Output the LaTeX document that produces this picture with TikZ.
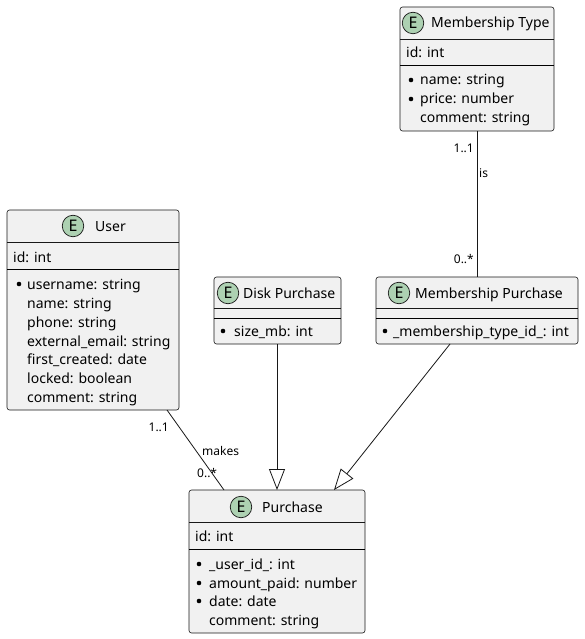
\documentclass[tikz,border=0pt]{standalone}
\usepackage{fontspec}
\setmainfont{Noto Sans}
\usetikzlibrary{arrows.meta}
\definecolor{boxfill}{HTML}{F1F1F1}
\definecolor{boxline}{HTML}{181818}
\definecolor{spotc}{HTML}{ADD1B2}
\begin{document}
\begin{tikzpicture}[x=1pt,y=-1pt,
  ent/.style={draw=boxline, fill=boxfill, rounded corners=2.5pt, line width=0.6pt, inner sep=0pt},
  spot/.style={circle, draw=boxline, fill=spotc, minimum size=21.5pt, inner sep=0pt, line width=0.7pt, font=\bfseries\fontsize{16}{16}\selectfont},
  title/.style={anchor=base west, inner sep=0pt, font=\fontsize{14}{16}\selectfont},
  row/.style={anchor=base west, inner sep=0pt, font=\fontsize{14}{16}\selectfont},
  lbl/.style={inner sep=0pt, font=\fontsize{12}{14}\selectfont},
  hsep/.style={draw=boxline, line width=0.5pt},
  asep/.style={draw=black, line width=1pt},
  conn/.style={draw=boxline, line width=0.8pt},
  ext/.style={conn, -{Triangle[open, length=21pt, width=16pt, line width=0.8pt]}},
  dot/.style={circle, fill=black, inner sep=0pt, minimum size=4.6pt}
]
\useasboundingbox (0,0) rectangle (585,639);
\fill[white] (0,0) rectangle (585,639);

% ---------- Membership Type ----------
\node[ent, minimum width=154pt, minimum height=124pt] (mt) at (477,69) {};
\draw[hsep] (400,39) -- (554,39);
\draw[asep] (400,66) -- (554,66);
\node[spot] (mts) at (413,23) {E};
\node[title] (mtt) at (431,28) {Membership Type};
\node[row] (mt1) at (406,58) {id: int};
\node[dot] (mtd1) at (411,80) {};
\node[row] (mt2) at (420,85) {name: string};
\node[dot] (mtd2) at (411,99) {};
\node[row] (mt3) at (420,104) {price: number};
\node[row] (mt4) at (420,123) {comment: string};

% ---------- User ----------
\node[ent, minimum width=172pt, minimum height=200pt] (user) at (93,310) {};
\draw[hsep] (7,242) -- (179,242);
\draw[asep] (7,269) -- (179,269);
\node[spot] (us) at (73,226) {E};
\node[title] (ut) at (95,231) {User};
\node[row] (u1) at (13,262) {id: int};
\node[dot] (ud1) at (19,284) {};
\node[row] (u2) at (27,289) {username: string};
\node[row] (u3) at (27,308) {name: string};
\node[row] (u4) at (27,327) {phone: string};
\node[row] (u5) at (27,346) {external\_email: string};
\node[row] (u6) at (27,364) {first\_created: date};
\node[row] (u7) at (27,383) {locked: boolean};
\node[row] (u8) at (27,402) {comment: string};

% ---------- Disk Purchase ----------
\node[ent, minimum width=127pt, minimum height=67pt] (disk) at (277.5,310.5) {};
\draw[hsep] (214,308) -- (341,308);
\draw[asep] (214,318) -- (341,318);
\node[spot] (ds) at (228,293) {E};
\node[title] (dt) at (243,298) {Disk Purchase};
\node[dot] (dd1) at (223,331) {};
\node[row] (d1) at (234,336) {size\_mb: int};

% ---------- Membership Purchase ----------
\node[ent, minimum width=202pt, minimum height=67pt] (mp) at (477,310.5) {};
\draw[hsep] (376,308) -- (578,308);
\draw[asep] (376,318) -- (578,318);
\node[spot] (mps) at (399,293) {E};
\node[title] (mpt) at (415,298) {Membership Purchase};
\node[dot] (mpd1) at (385,331) {};
\node[row] (mp1) at (393,336) {\_membership\_type\_id\_: int};

% ---------- Purchase ----------
\node[ent, minimum width=176pt, minimum height=143pt] (pur) at (277,561.5) {};
\draw[hsep] (189,522) -- (365,522);
\draw[asep] (189,549) -- (365,549);
\node[spot] (ps) at (241,507) {E};
\node[title] (pt) at (262,512) {Purchase};
\node[row] (p1) at (195,541) {id: int};
\node[dot] (pd1) at (199,564) {};
\node[row] (p2) at (209,569) {\_user\_id\_: int};
\node[dot] (pd2) at (199,583) {};
\node[row] (p3) at (209,588) {amount\_paid: number};
\node[dot] (pd3) at (199,601) {};
\node[row] (p4) at (209,606) {date: date};
\node[row] (p5) at (209,625) {comment: string};

% ---------- connectors ----------
\draw[conn] (mt.south) -- (mp.north);
\node[lbl, anchor=east] (l1) at (474,148) {1..1};
\node[lbl, anchor=west] (l2) at (479,173) {is};
\node[lbl, anchor=east] (l3) at (474,259) {0..*};

\coordinate (ua) at (167,410);
\coordinate (pa) at (224,490);
\draw[conn] (ua) -- (pa);
\node[lbl, anchor=east] (l4) at (169,427) {1..1};
\node[lbl, anchor=west] (l5) at (202,451) {makes};
\node[lbl, anchor=west] (l6) at (197,473) {0..*};

\coordinate (pb) at (277,490);
\draw[ext] (disk.south -| pb) -- (pb);

\coordinate (mpa) at (450,344);
\coordinate (pc) at (334,490);
\draw[ext] (mpa) -- (pc);
\end{tikzpicture}
\end{document}
